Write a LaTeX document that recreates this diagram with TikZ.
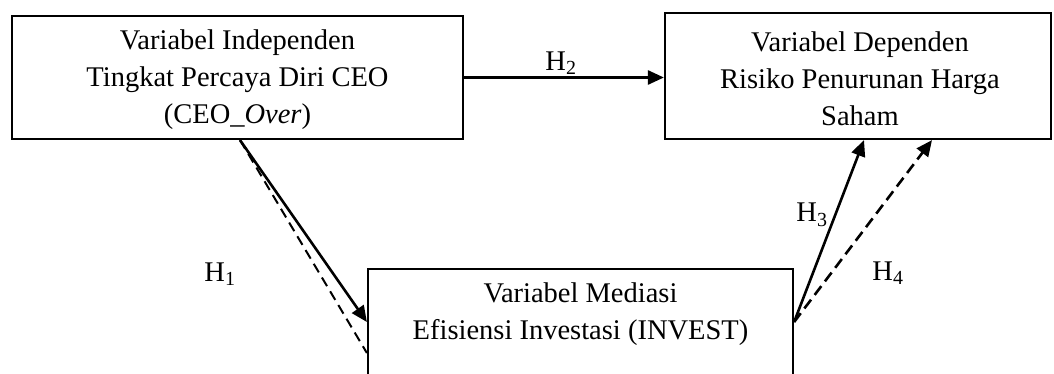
\documentclass[tikz,border=0pt]{standalone}
\usepackage{fontspec}
\setmainfont{Liberation Serif}
\usetikzlibrary{arrows.meta,calc}
\tikzset{
  box/.style={draw=black, line width=2.2pt, rectangle, inner sep=0pt},
  txt/.style={align=center, font=\fontsize{28.5}{37}\selectfont, inner sep=0pt},
  lbl/.style={font=\fontsize{28.5}{30}\selectfont, inner sep=0pt},
  arr/.style={line width=2.6pt, -{Triangle[length=16pt,width=14pt]}},
  darr/.style={line width=2.6pt, dash pattern=on 11pt off 6pt, -{Triangle[length=16pt,width=14pt]}},
  dline/.style={line width=2pt, dash pattern=on 10pt off 6pt}
}
\begin{document}
\begin{tikzpicture}[x=1pt,y=-1pt]
\useasboundingbox (0,0) rectangle (1054,374);
\clip (0,0) rectangle (1054,374);
% boxes
\node[box, minimum width=451pt, minimum height=123pt] (A) at (237.5,77.5) {};
\node[txt] (At) at (237.5,80) {Variabel Independen\\Tingkat Percaya Diri CEO\\(CEO\_\textit{Over})};
\node[box, minimum width=386pt, minimum height=126pt] (B) at (858,76) {};
\node[txt] (Bt) at (860,79) {Variabel Dependen\\Risiko Penurunan Harga\\Saham};
\node[box, minimum width=425pt, minimum height=131pt] (C) at (580.5,334.5) {};
\node[txt] (Ct) at (580.5,314) {Variabel Mediasi\\Efisiensi Investasi (INVEST)};
% connectors
\draw[arr] (A.east) -- (A.east -| B.west);
\draw[arr] ([xshift=2.5pt]A.south) -- ([yshift=12.5pt]C.west);
\draw[dline] ([xshift=2.5pt]A.south) -- ([yshift=-18.5pt]C.west);
\draw[arr] ([yshift=12.5pt]C.east) -- ([xshift=6pt]B.south);
\draw[darr] ([yshift=12.5pt]C.east) -- ([xshift=74pt]B.south);
% labels
\node[lbl] (h2) at (561,63) {H\textsubscript{2}};
\node[lbl] (h1) at (220,274) {H\textsubscript{1}};
\node[lbl] (h3) at (812,215) {H\textsubscript{3}};
\node[lbl] (h4) at (888,273) {H\textsubscript{4}};
\end{tikzpicture}
\end{document}
